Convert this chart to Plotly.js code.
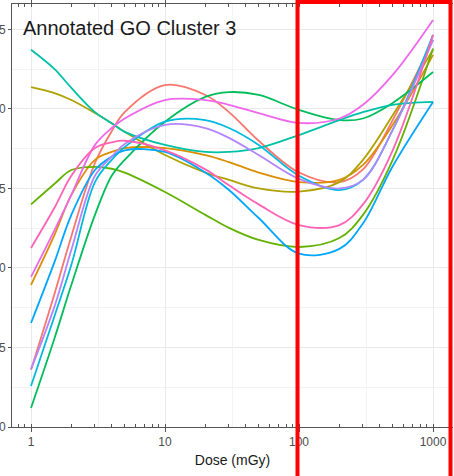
<!DOCTYPE html>
<html>
<head>
<meta charset="utf-8">
<script src="https://cdn.plot.ly/plotly-3.0.1.min.js"></script>
<style>
  html, body { margin: 0; padding: 0; background: #ffffff; }
  #chart { width: 454px; height: 476px; }
</style>
</head>
<body>
<div id="chart"></div>
<script>
// Fitted expression profiles for the genes of GO cluster 3, by dose (mGy)
const doses = [1, 1.5, 2, 3, 4, 5, 10, 20, 30, 50, 100, 200, 300, 500, 1000];

const geneA = [0.18, 0.42, 0.60, 0.83, 0.93, 0.99, 1.075, 1.044, 0.99, 0.90, 0.80, 0.77, 0.81, 0.965, 1.217];
const geneB = [0.447, 0.605, 0.73, 0.84, 0.865, 0.877, 0.877, 0.855, 0.833, 0.80, 0.77, 0.777, 0.824, 0.95, 1.17];
const geneC = [1.069, 1.05, 1.028, 0.987, 0.955, 0.928, 0.855, 0.80, 0.777, 0.75, 0.74, 0.77, 0.84, 0.98, 1.186];
const geneD = [0.70, 0.765, 0.808, 0.818, 0.812, 0.80, 0.739, 0.667, 0.626, 0.588, 0.566, 0.594, 0.667, 0.84, 1.19];
const geneE = [0.06, 0.28, 0.447, 0.667, 0.79, 0.84, 0.96, 1.038, 1.053, 1.044, 0.997, 0.965, 0.97, 1.019, 1.116];
const geneF = [1.186, 1.125, 1.066, 0.99, 0.955, 0.928, 0.887, 0.865, 0.865, 0.877, 0.918, 0.965, 0.99, 1.013, 1.022];
const geneG = [0.129, 0.35, 0.51, 0.77, 0.84, 0.88, 0.96, 0.965, 0.94, 0.887, 0.79, 0.745, 0.777, 0.934, 1.233];
const geneH = [0.327, 0.52, 0.667, 0.808, 0.85, 0.87, 0.865, 0.80, 0.745, 0.657, 0.545, 0.56, 0.64, 0.82, 1.022];
const geneI = [0.182, 0.38, 0.557, 0.79, 0.85, 0.89, 0.95, 0.94, 0.909, 0.855, 0.78, 0.75, 0.777, 0.934, 1.217];
const geneJ = [0.472, 0.62, 0.73, 0.887, 0.94, 0.97, 1.028, 1.028, 1.013, 0.987, 0.956, 0.97, 1.013, 1.107, 1.28];
const geneK = [0.563, 0.69, 0.79, 0.877, 0.895, 0.90, 0.87, 0.81, 0.76, 0.70, 0.635, 0.635, 0.70, 0.87, 1.233];

const seriesNames = ["geneA", "geneB", "geneC", "geneD", "geneE", "geneF", "geneG", "geneH", "geneI", "geneJ", "geneK"];
const seriesValues = [geneA, geneB, geneC, geneD, geneE, geneF, geneG, geneH, geneI, geneJ, geneK];

const yTickVals = [0, 0.25, 0.5, 0.75, 1.0, 1.25];
const yTickText = ["0.00", "0.25", "0.50", "0.75", "1.00", "1.25"];
const xTickVals = [1, 10, 100, 1000];
const xTickText = ["1", "10", "100", "1000"];
const xMinorGrid = [0.3162, 3.162, 31.62, 316.2];

// ggplot2-style hue palette for 11 groups
const palette = ["#F8766D", "#DB8E00", "#AEA200", "#64B200", "#00BD5C", "#00C1A7",
                 "#00BADE", "#00A6FF", "#B385FF", "#EF67EB", "#FF63B6"];

const traces = seriesValues.map((vals, i) => ({
  type: "scatter",
  mode: "lines",
  x: doses,
  y: vals,
  name: seriesNames[i],
  line: { color: palette[i], width: 1.8, shape: "spline", smoothing: 1 },
  hoverinfo: "skip",
  showlegend: false
}));

const W = 454, H = 476;
const M = { l: 12, r: 1, t: 4, b: 49 };
const pw = W - M.l - M.r, ph = H - M.t - M.b;
const px = v => (v - M.l) / pw;
const py = v => (H - M.b - v) / ph;

const layout = {
  width: W,
  height: H,
  margin: M,
  paper_bgcolor: "#ffffff",
  plot_bgcolor: "#ffffff",
  showlegend: false,
  font: { family: "Liberation Sans, Arial, sans-serif", color: "#4d4d4d" },
  xaxis: {
    type: "log",
    range: [-0.142, 3.149],
    tickmode: "array",
    tickvals: xTickVals,
    ticktext: xTickText,
    ticks: "outside",
    ticklen: 4,
    tickcolor: "#555555",
    tickfont: { size: 12, color: "#4d4d4d" },
    showgrid: true,
    gridcolor: "#e9e9e9",
    gridwidth: 1,
    zeroline: false,
    showline: true,
    linecolor: "#555555",
    linewidth: 1,
    mirror: "ticks",
    minor: { dtick: "D1", ticks: "inside", ticklen: 3, tickcolor: "#555555", showgrid: false },
    title: { text: "Dose (mGy)", font: { size: 14, color: "#1a1a1a" }, standoff: 6 },
    automargin: false
  },
  xaxis2: {
    type: "log",
    overlaying: "x",
    anchor: "y",
    range: [-0.142, 3.149],
    tickmode: "array",
    tickvals: xMinorGrid,
    showticklabels: false,
    ticks: "",
    showgrid: true,
    gridcolor: "#f3f3f3",
    zeroline: false,
    showline: false
  },
  yaxis: {
    range: [0, 1.33],
    tickmode: "array",
    tickvals: yTickVals,
    ticktext: yTickText,
    ticks: "outside",
    ticklen: 3,
    tickcolor: "#555555",
    tickfont: { size: 12, color: "#4d4d4d" },
    showgrid: true,
    gridcolor: "#e9e9e9",
    zeroline: false,
    showline: true,
    linecolor: "#555555",
    linewidth: 1,
    minor: { dtick: 0.125, tick0: 0.125, showgrid: true, gridcolor: "#f3f3f3", ticks: "" },
    automargin: false
  },
  annotations: [{
    xref: "paper", yref: "paper",
    x: px(21), y: py(28),
    xanchor: "left", yanchor: "middle",
    text: "Annotated GO Cluster 3",
    showarrow: false,
    font: { size: 20, color: "#1a1a1a", family: "Liberation Sans, Arial, sans-serif" }
  }],
  shapes: [{
    type: "rect",
    xref: "paper", yref: "paper",
    x0: px(297.5), x1: px(450.5),
    y0: py(490), y1: py(2),
    line: { color: "#ff0000", width: 4 },
    fillcolor: "rgba(0,0,0,0)",
    layer: "above"
  }]
};

// Empty trace so the minor-grid overlay axis gets its subplot
traces.unshift({ type: "scatter", mode: "none", x: [], y: [], xaxis: "x2", yaxis: "y", showlegend: false, hoverinfo: "skip" });

Plotly.newPlot("chart", traces, layout, { displayModeBar: false, staticPlot: true });
</script>
</body>
</html>
